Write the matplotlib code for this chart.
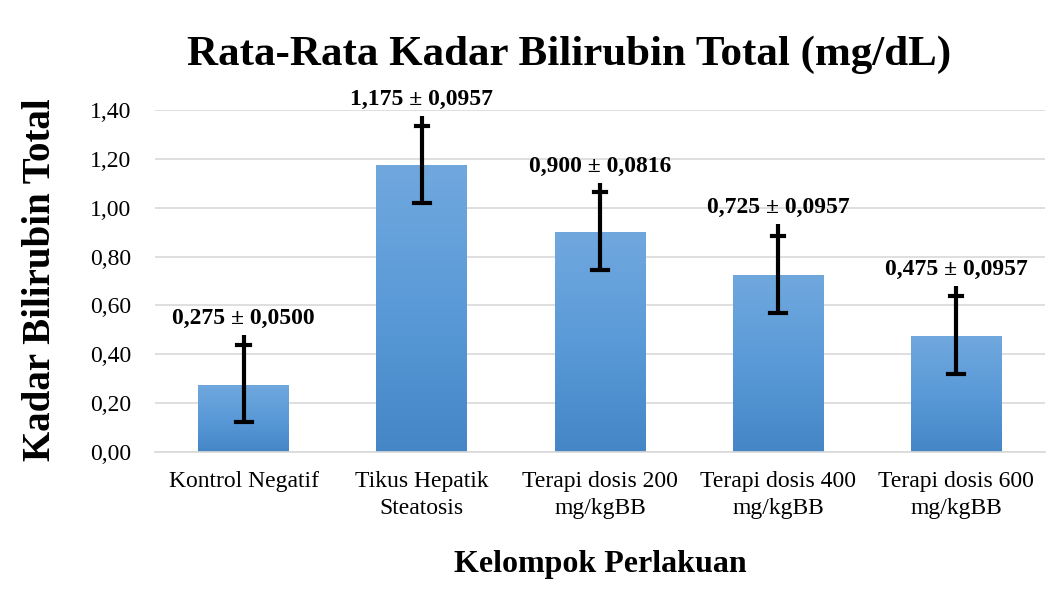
import numpy as np
import matplotlib.pyplot as plt
from matplotlib.colors import LinearSegmentedColormap

# Data -----------------------------------------------------------------------
kelompok = ["Kontrol Negatif", "Tikus Hepatik\nSteatosis", "Terapi dosis 200\nmg/kgBB",
            "Terapi dosis 400\nmg/kgBB", "Terapi dosis 600\nmg/kgBB"]
rata = [0.275, 1.175, 0.900, 0.725, 0.475]
label = ["0,275 ± 0,0500", "1,175 ± 0,0957", "0,900 ± 0,0816", "0,725 ± 0,0957", "0,475 ± 0,0957"]
# error bar ends
err_bawah = [0.123, 1.020, 0.745, 0.569, 0.319]
err_atas = [0.438, 1.336, 1.064, 0.884, 0.639]
garis_atas = [0.479, 1.375, 1.100, 0.933, 0.680]
yticks = [0.0, 0.2, 0.4, 0.6, 0.8, 1.0, 1.2, 1.4]

plt.rcParams['font.family'] = ['Liberation Serif', 'DejaVu Serif']

fig = plt.figure(figsize=(10.59, 5.92), dpi=100)
ax = fig.add_axes([0.146, 0.2365, 0.841, 0.5775])

x = np.arange(len(kelompok))
bars = ax.bar(x, rata, width=0.51, color='#5b9bd5', zorder=2)

# gradasi biru pada batang (atas terang, bawah gelap)
cmap = LinearSegmentedColormap.from_list('biru', ['#4586c7', '#5a9ad8', '#70a8de'])
for b in bars:
    x0, y0 = b.get_x(), b.get_y()
    im = ax.imshow(np.linspace(0, 1, 100).reshape(-1, 1), cmap=cmap, origin='lower',
                   extent=[x0, x0 + b.get_width(), y0, y0 + b.get_height()],
                   aspect='auto', zorder=2.1)
    im.set_clip_path(b)

for i in range(len(x)):
    ax.plot([x[i], x[i]], [err_bawah[i], garis_atas[i]], color='black', lw=3, zorder=3,
            solid_capstyle='butt', clip_on=False)
    ax.plot([x[i] - 0.045, x[i] + 0.045], [err_bawah[i]] * 2, color='black', lw=3, zorder=3)
    ax.plot([x[i] - 0.035, x[i] + 0.035], [err_atas[i]] * 2, color='black', lw=3, zorder=3,
            clip_on=False)
    ax.text(x[i], garis_atas[i] + 0.025, label[i], ha='center', va='bottom',
            fontsize=17, fontweight='bold', clip_on=False)

ax.set_xlim(-0.5, len(x) - 0.5)
ax.set_ylim(0, 1.4)
ax.set_yticks(yticks)
ax.set_yticklabels([f"{v:.2f}".replace('.', ',') for v in yticks], fontsize=17)
ax.set_xticks(x)
ax.set_xticklabels(kelompok, fontsize=17, linespacing=1.35)
ax.tick_params(axis='y', length=0, pad=17)
ax.tick_params(axis='x', length=0, pad=14)
ax.yaxis.grid(True, color='#d9d9d9', lw=1.2, zorder=0)
ax.set_axisbelow(True)
for s in ['top', 'right', 'left']:
    ax.spines[s].set_visible(False)
ax.spines['bottom'].set_color('#d9d9d9')
ax.spines['bottom'].set_linewidth(1.2)

fig.text(0.537, 0.907, "Rata-Rata Kadar Bilirubin Total (mg/dL)", ha='center', va='center',
         fontsize=31, fontweight='bold')
fig.text(0.038, 0.527, "Kadar Bilirubin Total", ha='center', va='center', rotation=90,
         fontsize=28, fontweight='bold')
fig.text(0.567, 0.046, "Kelompok Perlakuan", ha='center', va='center',
         fontsize=23, fontweight='bold')

fig.savefig('out.png', dpi=100)
